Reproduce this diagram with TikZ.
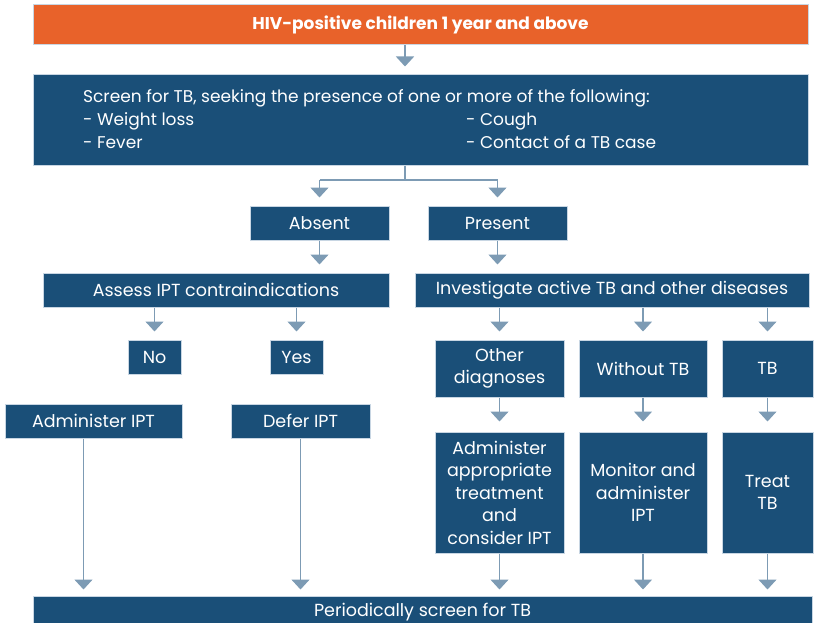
\documentclass[tikz,border=0pt]{standalone}
\usepackage{fontspec}
\setmainfont{Poppins}
\usetikzlibrary{arrows.meta}
\definecolor{hivorange}{RGB}{232,98,42}
\definecolor{tbblue}{RGB}{26,79,120}
\definecolor{tbedge}{RGB}{200,214,227}
\definecolor{tbarrow}{RGB}{125,155,180}
\tikzset{
  box/.style={fill=tbblue, draw=tbedge, line width=1pt, text=white, inner sep=0pt,
    align=center, font=\fontsize{17.5}{22.5}\selectfont},
  flow/.style={draw=tbarrow, line width=1.5pt, -{Triangle[width=18pt,length=10pt]}},
  link/.style={draw=tbarrow, line width=1.5pt},
  boxtext/.style={anchor=base west, text=white, inner sep=0pt, font=\fontsize{17}{20}\selectfont},
}
\begin{document}
\begin{tikzpicture}[x=1pt,y=-1pt]
  \useasboundingbox (0,0) rectangle (816,623);

  % Top of the chart
  \node[box, fill=hivorange, minimum width=775pt, minimum height=40pt,
    font=\bfseries\fontsize{17}{20}\selectfont] (start) at (420.5,25) {HIV-positive children 1 year and above};
  \node[box, minimum width=775pt, minimum height=90pt] (screen) at (420.5,120) {};
  \node[boxtext] (scrhead) at (83,103) {Screen for TB, seeking the presence of one or more of the following:};
  \node[boxtext] (weight) at (83,125) {- Weight loss};
  \node[boxtext] (fever) at (83,148) {- Fever};
  \node[boxtext] (cough) at (466,125) {- Cough};
  \node[boxtext] (contact) at (466,148) {- Contact of a TB case};

  % Absent / Present
  \node[box, minimum width=139pt, minimum height=34pt] (absent) at (319.5,223) {Absent};
  \node[box, minimum width=139pt, minimum height=34pt] (present) at (497.5,223) {Present};
  \node[box, minimum width=346pt, minimum height=34pt] (assess) at (216,290) {Assess IPT contraindications};
  \node[box, minimum width=394pt, minimum height=34pt] (invest) at (612,290) {Investigate active TB and other diseases};

  % Absent branch
  \node[box, minimum width=53pt, minimum height=34pt] (no) at (154.5,357) {No};
  \node[box, minimum width=53pt, minimum height=34pt] (yes) at (296.5,357) {Yes};
  \node[box, minimum width=177pt, minimum height=34pt] (admipt) at (93.5,421) {Administer IPT};
  \node[box, minimum width=139pt, minimum height=34pt] (defer) at (300.5,421) {Defer IPT};

  % Present branch
  \node[box, minimum width=129pt, minimum height=57pt] (otherdx) at (499.5,368.5) {Other\\diagnoses};
  \node[box, minimum width=128pt, minimum height=57pt] (notb) at (643,368.5) {Without TB};
  \node[box, minimum width=91pt, minimum height=57pt] (tb) at (767.5,368.5) {TB};
  \node[box, minimum width=129pt, minimum height=121pt] (treatdx) at (499.5,492.5) {Administer\\appropriate\\treatment\\and\\consider IPT};
  \node[box, minimum width=128pt, minimum height=121pt] (monitor) at (643,492.5) {Monitor and\\administer\\IPT};
  \node[box, minimum width=91pt, minimum height=121pt] (treattb) at (767.5,492.5) {Treat\\TB};

  % Bottom
  \node[box, minimum width=779pt, minimum height=32pt] (periodic) at (422.5,612) {Periodically screen for TB};

  % Connectors
  \coordinate (split) at (405,180);
  \coordinate (admout) at ([xshift=-10pt]admipt.south);
  \draw[flow] (start.south -| split) -- ([yshift=8pt]screen.north -| split);
  \draw[link] (screen.south -| split) -- (split);
  \draw[link] (split -| absent.north) -- (split -| present.north);
  \draw[flow] (split -| absent.north) -- ([yshift=8pt]absent.north);
  \draw[flow] (split -| present.north) -- ([yshift=8pt]present.north);
  \draw[flow] (absent.south) -- ([yshift=8pt]assess.north -| absent.south);
  \draw[flow] (present.south) -- ([yshift=8pt]invest.north -| present.south);
  \draw[flow] (assess.south -| no.north) -- ([yshift=8pt]no.north);
  \draw[flow] (assess.south -| yes.north) -- ([yshift=8pt]yes.north);
  \draw[flow] (invest.south -| otherdx.north) -- ([yshift=8pt]otherdx.north);
  \draw[flow] (invest.south -| notb.north) -- ([yshift=8pt]notb.north);
  \draw[flow] (invest.south -| tb.north) -- ([yshift=8pt]tb.north);
  \draw[flow] (otherdx.south) -- ([yshift=10pt]treatdx.north);
  \draw[flow] (notb.south) -- ([yshift=10pt]monitor.north);
  \draw[flow] (tb.south) -- ([yshift=10pt]treattb.north);
  \draw[flow] (admout) -- ([yshift=6pt]periodic.north -| admout);
  \draw[flow] (defer.south) -- ([yshift=6pt]periodic.north -| defer.south);
  \draw[flow] (treatdx.south) -- ([yshift=6pt]periodic.north -| treatdx.south);
  \draw[flow] (monitor.south) -- ([yshift=6pt]periodic.north -| monitor.south);
  \draw[flow] (treattb.south) -- ([yshift=6pt]periodic.north -| treattb.south);
\end{tikzpicture}
\end{document}
